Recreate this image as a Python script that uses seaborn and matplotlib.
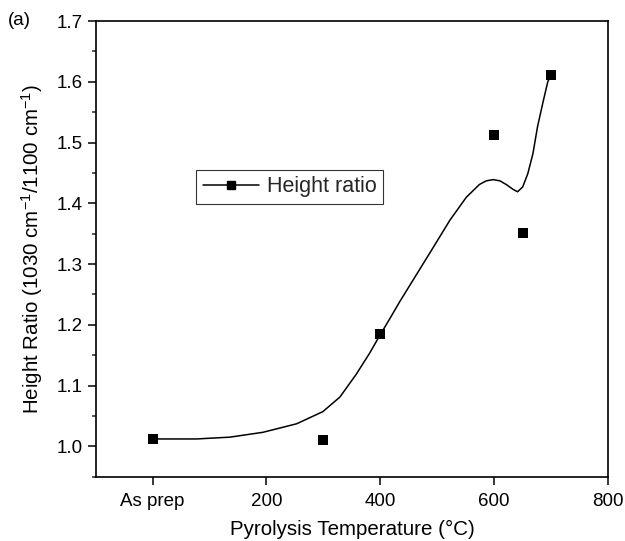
import matplotlib
matplotlib.use("Agg")
import matplotlib.pyplot as plt
from matplotlib.lines import Line2D
from matplotlib.ticker import FormatStrFormatter, MultipleLocator
import seaborn as sns

# measured points
temperature = [0, 300, 400, 600, 650, 700]
height_ratio = [1.012, 1.010, 1.184, 1.512, 1.351, 1.612]

# smoothed curve
fit_temperature = [0, 77, 136, 194, 253, 299, 329, 358, 381, 400, 416, 434, 463, 492,
                   522, 551, 574, 586, 598, 610, 621, 633, 641, 650, 659, 668, 676,
                   685, 694, 700]
fit_ratio = [1.012, 1.012, 1.015, 1.023, 1.037, 1.057, 1.081, 1.119, 1.153, 1.184, 1.209,
             1.238, 1.282, 1.326, 1.372, 1.410, 1.431, 1.437, 1.439, 1.437, 1.431, 1.423,
             1.419, 1.427, 1.449, 1.482, 1.526, 1.564, 1.600, 1.612]

x_ticks = [0, 200, 400, 600, 800]
x_tick_labels = ["As prep", "200", "400", "600", "800"]

sns.set_theme(style="white")
plt.rcParams["font.family"] = ["Liberation Sans", "DejaVu Sans"]
plt.rcParams["mathtext.fontset"] = "custom"
plt.rcParams["mathtext.rm"] = "Liberation Sans"
plt.rcParams["mathtext.it"] = "Liberation Sans:italic"
plt.rcParams["mathtext.bf"] = "Liberation Sans:bold"

fig = plt.figure(figsize=(6.25, 5.41), dpi=100)
ax = fig.add_axes([0.153, 0.119, 0.82, 0.842])

sns.lineplot(x=fit_temperature, y=fit_ratio, color="black", linewidth=1.1,
             sort=False, estimator=None, ax=ax)
sns.scatterplot(x=temperature, y=height_ratio, marker="s", s=42, color="black",
                edgecolor="black", linewidth=0, zorder=3, ax=ax)

ax.set_xlim(-100, 800)
ax.set_ylim(0.95, 1.7)
ax.set_xticks(x_ticks)
ax.set_xticklabels(x_tick_labels)
ax.yaxis.set_major_locator(MultipleLocator(0.1))
ax.yaxis.set_minor_locator(MultipleLocator(0.05))
ax.yaxis.set_major_formatter(FormatStrFormatter("%.1f"))

ax.tick_params(axis="both", which="major", direction="out", length=6, width=1.1,
               labelsize=13.5, colors="black", bottom=True, left=True)
ax.tick_params(axis="x", which="major", pad=6)
ax.tick_params(axis="y", which="minor", direction="out", length=3, width=1.1, left=True)
for spine in ax.spines.values():
    spine.set_color("black")
    spine.set_linewidth(1.2)

ax.set_xlabel("Pyrolysis Temperature (°C)", fontsize=14.8, color="black", labelpad=7)
ax.set_ylabel("Height Ratio (1030 cm$^{-1}$/1100 cm$^{-1}$)", fontsize=14.8,
              color="black", labelpad=8)

handle = Line2D([], [], color="black", linewidth=1.1, marker="s", markersize=6)
legend = ax.legend([handle], ["Height ratio"], loc="center left",
                   bbox_to_anchor=(0.196, 0.636), fontsize=15.5, frameon=True,
                   fancybox=False, handlelength=2.6, borderpad=0.3,
                   handletextpad=0.4, borderaxespad=0)
legend.get_frame().set_edgecolor("black")
legend.get_frame().set_linewidth(0.8)

fig.text(0.013, 0.962, "(a)", fontsize=13.5, color="black", va="center", ha="left")

fig.savefig("out.png", dpi=100)
